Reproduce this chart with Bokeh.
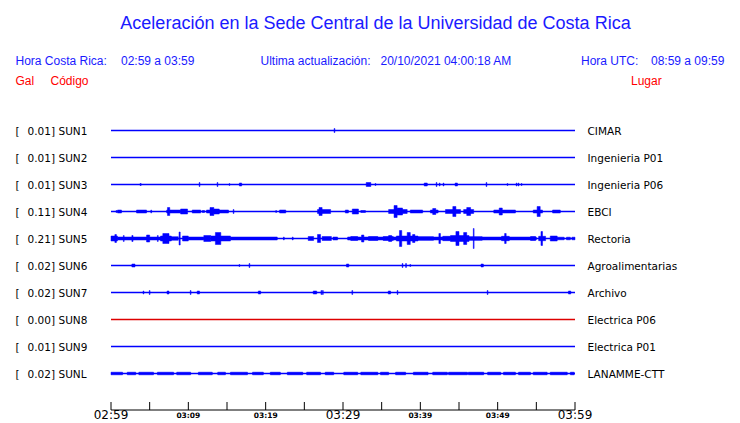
from bokeh.plotting import figure
from bokeh.models import Range1d
from bokeh.embed import file_html
from bokeh.resources import INLINE
from bokeh.core.properties import value

# ---------------- data ----------------
title = "Aceleración en la Sede Central de la Universidad de Costa Rica"
hora_cr = "02:59 a 03:59"
hora_utc = "08:59 a 09:59"
ultima = "20/10/2021 04:00:18 AM"

codes = ["SUN1", "SUN2", "SUN3", "SUN4", "SUN5", "SUN6", "SUN7", "SUN8", "SUN9", "SUNL"]
max_gal = ["0.01", "0.01", "0.01", "0.11", "0.21", "0.02", "0.02", "0.00", "0.01", "0.02"]
places = ["CIMAR", "Ingenieria P01", "Ingenieria P06", "EBCI", "Rectoria",
          "Agroalimentarias", "Archivo", "Electrica P06", "Electrica P01", "LANAMME-CTT"]
status = ["ok", "ok", "ok", "ok", "ok", "ok", "ok", "off", "ok", "ok"]

tick_minutes = [0, 5, 10, 15, 20, 25, 30, 35, 40, 45, 50, 55, 60]
major_ticks = [0, 30, 60]
major_labels = ["02:59", "03:29", "03:59"]
minor_ticks = [10, 20, 40, 50]
minor_labels = ["03:09", "03:19", "03:39", "03:49"]

# waveform envelopes: (start min, end min, half amplitude) -- minutes after 02:59
sun1 = [(28.85, 28.95, 2)]
sun2 = []
sun3 = [(3.75, 3.9, 1), (11.4, 11.5, 2), (13.72, 13.82, 2), (15.28, 15.36, 1),
        (16.6, 16.9, 1.5), (33.0, 33.6, 2), (34.15, 34.25, 1), (40.5, 40.9, 1.5),
        (42.05, 42.15, 2), (42.45, 42.55, 1.5), (42.95, 43.05, 1.5), (44.5, 44.8, 1.5),
        (48.5, 48.6, 2), (51.22, 51.32, 1), (52.4, 52.5, 1.5), (52.65, 52.75, 1.5),
        (53.05, 53.15, 1)]
sun4 = [(0.65, 0.75, 1), (0.84, 1.36, 1.5), (3.3, 4.6, 1.5), (5.15, 5.25, 1.5),
        (7.2, 9.0, 1.5), (7.3, 7.6, 4), (9.0, 9.9, 2.5), (10.5, 11.6, 1.5), (11.8, 12.1, 1),
        (12.35, 15.2, 1.5), (12.8, 13.3, 4), (13.3, 14.0, 2.5), (15.8, 15.9, 2),
        (21.3, 21.4, 1), (21.8, 22.6, 1.5), (26.7, 28.4, 2), (26.9, 27.3, 4),
        (30.3, 30.7, 1.5), (31.2, 32.0, 2.5), (32.3, 32.9, 1), (35.9, 38.3, 2),
        (36.6, 37.0, 6), (37.0, 37.7, 3.5), (38.7, 40.3, 1.5), (41.3, 42.3, 1.5), (41.6, 42.0, 3),
        (43.25, 45.2, 2), (44.2, 44.6, 5), (45.6, 46.9, 2), (46.0, 46.5, 4),
        (49.5, 52.3, 1.5), (50.2, 50.6, 3.5), (54.6, 55.8, 1.5), (55.1, 55.5, 5), (57.1, 58.1, 1.5)]
sun5 = [(0.0, 0.84, 2.5), (0.5, 0.7, 4), (0.84, 6.8, 1.5), (1.6, 1.7, 3), (2.7, 2.85, 3),
        (4.6, 5.0, 3.5), (6.0, 6.1, 3), (6.4, 7.8, 2.5), (6.7, 7.5, 5), (7.4, 8.7, 1.8),
        (8.8, 8.95, 6.5), (9.25, 10.0, 2.5), (10.0, 12.0, 1.5), (12.0, 12.9, 3),
        (12.9, 15.45, 2.5), (13.5, 14.2, 6), (15.45, 21.5, 1.5), (22.3, 22.4, 1.5),
        (23.45, 23.55, 1.5), (25.5, 26.2, 2), (26.7, 27.1, 4), (27.3, 28.5, 2),
        (28.7, 29.3, 1.5), (30.6, 31.0, 1.5), (31.0, 55.0, 1.5), (31.0, 31.9, 2),
        (32.4, 32.7, 3.5), (33.3, 34.5, 2), (35.2, 36.5, 2), (35.9, 36.3, 3),
        (36.9, 39.7, 2.5), (37.3, 37.6, 8), (38.3, 38.7, 6), (39.0, 39.3, 4),
        (39.6, 41.7, 1.8), (42.4, 42.6, 5), (42.9, 43.9, 2.2), (43.9, 46.3, 3),
        (44.6, 45.0, 7), (45.6, 46.0, 6), (46.85, 46.95, 10), (46.3, 48.0, 1.8),
        (50.5, 51.5, 2.2), (50.9, 51.1, 5), (54.25, 54.9, 2), (55.3, 56.2, 2.2),
        (55.6, 55.8, 7), (56.8, 57.7, 2.5), (57.7, 58.6, 1.3), (58.9, 59.4, 1.3),
        (59.6, 60.0, 1.3)]
sun6 = [(2.7, 3.1, 1.5), (16.55, 16.65, 1), (17.85, 17.95, 2), (30.45, 30.75, 1.5),
        (37.65, 37.75, 2), (38.1, 38.2, 2), (38.65, 38.75, 1), (47.85, 48.15, 1.5)]
sun7 = [(4.15, 4.25, 1.5), (4.95, 5.05, 2), (7.25, 7.5, 1.5), (10.25, 10.35, 2),
        (11.15, 11.45, 1.5), (19.05, 19.35, 1.5), (26.15, 26.6, 1.5), (27.15, 27.25, 2),
        (27.35, 27.45, 2), (31.15, 31.25, 2), (35.85, 36.15, 1.5), (37.0, 37.1, 2),
        (48.65, 48.75, 2), (59.15, 59.45, 1.5)]
sun8 = []
sun9 = []
sunl = [(0.0, 1.5, 1.3), (2.1, 3.2, 1.3), (3.6, 5.5, 1.3), (6.0, 8.1, 1.3), (8.5, 10.3, 1.3),
        (11.3, 13.1, 1.3), (13.8, 14.8, 1.3), (15.45, 17.65, 1.3), (18.3, 19.7, 1.3),
        (20.6, 21.9, 1.3), (22.8, 24.8, 1.3), (25.3, 27.1, 1.3), (27.7, 28.8, 1.3),
        (30.1, 31.9, 1.3), (32.3, 34.5, 1.3), (34.85, 35.9, 1.3), (36.8, 38.1, 1.3),
        (39.1, 41.0, 1.3), (41.6, 43.5, 1.3), (43.65, 46.1, 1.3), (46.2, 48.2, 1.3),
        (48.7, 50.4, 1.3), (50.75, 52.3, 1.3), (52.7, 54.25, 1.3), (54.6, 56.4, 1.3),
        (56.8, 59.0, 1.3), (59.4, 59.9, 1.3)]
envelopes = [sun1, sun2, sun3, sun4, sun5, sun6, sun7, sun8, sun9, sunl]

# ---------------- layout ----------------
W, H = 740, 423
OFF = 0                            # canvas offset on the page
PX0, PX60 = 110.5, 574.5           # page pixel of minute 0 and minute 60
scale = (PX60 - PX0) / 60.0
x_start = (OFF - PX0) / scale
x_end = x_start + W / scale


def px(xp):
    return (xp - PX0) / scale


def base(y_baseline, fs):
    # compensate for where the svg backend puts the alphabetic baseline
    return y_baseline - 0.4 * fs


p = figure(width=W, height=H, output_backend="svg", toolbar_location=None,
           x_range=Range1d(x_start, x_end), y_range=Range1d(OFF + H, OFF),
           x_axis_type=None, y_axis_type=None, min_border=0)
p.grid.visible = False
p.outline_line_color = None
p.background_fill_color = "white"
p.border_fill_color = "white"

BLUE = "#0000ff"
TXT_BLUE = "#1a1aff"
RED = "#ff0000"

sans = value("Liberation Sans")
dv = value("DejaVu Sans")

# title and headers
p.text(x=[px(375)], y=[base(29.3, 18)], text=[title], text_font=sans, text_font_size="18px",
       text_color=TXT_BLUE, text_align="center", text_baseline="alphabetic")
p.text(x=[px(15), px(120.5), px(260), px(380), px(580.5), px(650.5)], y=[base(65, 12)] * 6,
       text=["Hora Costa Rica:", hora_cr, "Ultima actualización:", ultima, "Hora UTC:", hora_utc],
       text_font=sans, text_font_size="12px", text_color=TXT_BLUE, text_baseline="alphabetic")
p.text(x=[px(15), px(50), px(630.5)], y=[base(85, 12)] * 3, text=["Gal", "Código", "Lugar"],
       text_font=sans, text_font_size="12px", text_color=RED, text_baseline="alphabetic")

# traces
for i, code in enumerate(codes):
    yy = 130 + 27 * i
    col = BLUE if status[i] == "ok" else "#dd0000"
    p.segment(x0=[0], y0=[yy], x1=[60], y1=[yy], line_color=col, line_width=1.4)
    env = envelopes[i]
    if env:
        p.quad(left=[e[0] for e in env], right=[e[1] for e in env],
               top=[yy - e[2] for e in env], bottom=[yy + e[2] for e in env],
               fill_color=col, line_color=col, line_width=0.5)
    tb = base(yy + 4.3, 10.5)
    p.text(x=[px(15)], y=[tb], text=["["], text_font=dv, text_font_size="10.5px",
           text_color="black", text_baseline="alphabetic")
    p.text(x=[px(54.5)], y=[tb], text=[max_gal[i] + "]"], text_font=dv, text_font_size="10.5px",
           text_color="black", text_align="right", text_baseline="alphabetic")
    p.text(x=[px(58)], y=[tb], text=[code], text_font=dv, text_font_size="10.5px",
           text_color="black", text_baseline="alphabetic")
    p.text(x=[px(587)], y=[tb], text=[places[i]], text_font=dv, text_font_size="10.5px",
           text_color="black", text_baseline="alphabetic")

# time axis
AX_Y = 409.5
p.segment(x0=[0], y0=[AX_Y], x1=[60], y1=[AX_Y], line_color="black", line_width=1)
p.segment(x0=tick_minutes, y0=[AX_Y - 8] * len(tick_minutes), x1=tick_minutes,
          y1=[AX_Y] * len(tick_minutes), line_color="black", line_width=1)
p.text(x=major_ticks, y=[base(419.5, 12)] * len(major_ticks), text=major_labels, text_font=dv,
       text_font_size="12px", text_color="black", text_align="center", text_baseline="alphabetic")
p.text(x=minor_ticks, y=[base(418, 7.5)] * len(minor_ticks), text=minor_labels, text_font=dv,
       text_font_size="7.5px", text_font_style="bold", text_color="black", text_align="center",
       text_baseline="alphabetic")

open("out.html", "w").write(file_html(p, INLINE))
